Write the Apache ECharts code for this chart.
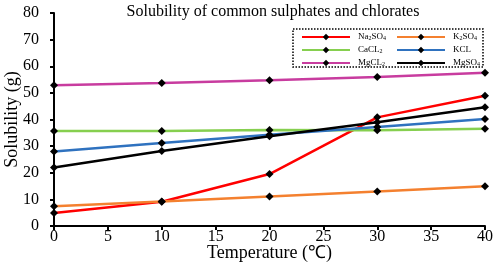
<!DOCTYPE html>
<html>
<head>
<meta charset="utf-8">
<script src="https://cdn.jsdelivr.net/npm/echarts@6/dist/echarts.min.js"></script>
<style>
html, body { margin: 0; padding: 0; background: #fff; }
#chart { width: 498px; height: 267px; }
</style>
</head>
<body>
<div id="chart"></div>
<script>
// temperatures (℃) and solubility (g) per salt
var temps = [0, 10, 20, 30, 40];
var xTicks = [0, 5, 10, 15, 20, 25, 30, 35, 40];
var yTicks = [0, 10, 20, 30, 40, 50, 60, 70, 80];

var na2so4 = [4.9, 9.1, 19.5, 40.8, 48.9];
var k2so4 = [7.4, 9.2, 11.1, 13.0, 14.9];
var cacl2 = [35.7, 35.7, 36.1, 36.0, 36.5];
var kcl = [28.0, 31.2, 34.3, 37.2, 40.2];
var mgcl2 = [52.9, 53.7, 54.7, 56.0, 57.6];
var mgso4 = [22.0, 28.2, 33.7, 39.0, 44.6];

var leftNames = ['Na2SO4', 'CaCL2', 'MgCL2'];
var rightNames = ['K2SO4', 'KCL', 'MgSO4'];

var font = 'Liberation Serif';

function pairs(vals) {
    return temps.map(function (t, i) { return [t, vals[i]]; });
}

function makeLine(name, vals, color) {
    return {
        name: name,
        type: 'line',
        data: pairs(vals),
        symbol: 'diamond',
        symbolSize: 8,
        itemStyle: { color: '#000' },
        lineStyle: { color: color, width: 2.5 },
        z: 3
    };
}

// subscript the digits in the legend names
function legendLabel(name) {
    return name.replace(/([A-Za-z]+)|(\d+)/g, function (m, a, d) {
        return a ? '{n|' + a + '}' : '{s|' + d + '}';
    });
}

var legendText = {
    fontFamily: font,
    rich: {
        n: { fontFamily: font, fontSize: 9, color: '#000', lineHeight: 11 },
        s: { fontFamily: font, fontSize: 6, color: '#000', lineHeight: 8, padding: [3, 0, 0, 0] }
    }
};

function makeLegend(names, left) {
    return {
        orient: 'vertical',
        left: left,
        top: 31,
        padding: 0,
        itemWidth: 48,
        itemHeight: 8,
        itemGap: 1,
        data: names,
        formatter: function (name) { return ' ' + legendLabel(name); },
        textStyle: legendText
    };
}

var option = {
    animation: false,
    title: {
        text: 'Solubility of common sulphates and chlorates',
        left: 268,
        textAlign: 'center',
        top: -1,
        textStyle: { fontFamily: font, fontSize: 16, fontWeight: 'normal', color: '#000' }
    },
    legend: [makeLegend(leftNames, 301), makeLegend(rightNames, 396)],
    graphic: [{
        type: 'rect',
        shape: { x: 293, y: 29, width: 190, height: 38 },
        style: { fill: '#fff', stroke: '#000', lineWidth: 1.5, lineDash: [1.5, 1.5] },
        z: 1
    }],
    grid: { left: 54, right: 13, top: 13, bottom: 41, outerBoundsMode: 'none' },
    xAxis: {
        type: 'value',
        min: xTicks[0],
        max: xTicks[xTicks.length - 1],
        interval: xTicks[1] - xTicks[0],
        name: 'Temperature (℃)',
        nameLocation: 'middle',
        nameGap: 18,
        nameMoveOverlap: false,
        nameTextStyle: { fontFamily: font, fontSize: 18, color: '#000' },
        axisLine: { lineStyle: { color: '#000', width: 2 } },
        axisTick: { length: 4, lineStyle: { color: '#000', width: 2 } },
        axisLabel: { fontFamily: font, fontSize: 16, color: '#000', margin: 3 },
        splitLine: { show: false }
    },
    yAxis: {
        type: 'value',
        min: yTicks[0],
        max: yTicks[yTicks.length - 1],
        interval: yTicks[1] - yTicks[0],
        name: 'Solubility (g)',
        nameLocation: 'middle',
        nameGap: 33,
        nameMoveOverlap: false,
        nameTextStyle: { fontFamily: font, fontSize: 18, color: '#000' },
        axisLine: { show: true, lineStyle: { color: '#000', width: 2 } },
        axisTick: { show: true, length: 4, lineStyle: { color: '#000', width: 2 } },
        axisLabel: { fontFamily: font, fontSize: 16, color: '#000', margin: 15 },
        splitLine: { show: false }
    },
    series: [
        makeLine('Na2SO4', na2so4, '#ff0000'),
        makeLine('K2SO4', k2so4, '#f4802f'),
        makeLine('CaCL2', cacl2, '#86cf4f'),
        makeLine('KCL', kcl, '#2f72bf'),
        makeLine('MgCL2', mgcl2, '#c83c9f'),
        makeLine('MgSO4', mgso4, '#000000')
    ]
};

var chart = echarts.init(document.getElementById('chart'));
chart.setOption(option);
</script>
</body>
</html>
